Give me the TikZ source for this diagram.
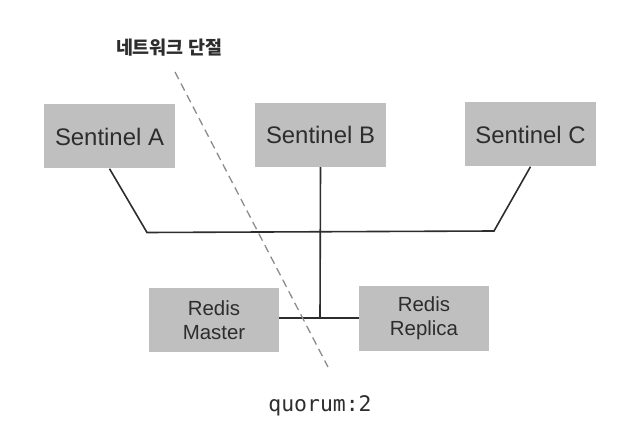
\documentclass[tikz,border=0pt]{standalone}
\usepackage{fontspec}
\setmainfont{Liberation Sans}
\setmonofont{DejaVu Sans Mono}
\newfontfamily\krfont{Noto Sans CJK KR}
\usetikzlibrary{positioning}
\definecolor{boxgray}{RGB}{191,191,191}
\definecolor{textgray}{RGB}{45,45,45}
\definecolor{cutgray}{RGB}{140,140,140}

\begin{document}
\begin{tikzpicture}[
	x=1bp, y=-1bp,
	server/.style={fill=boxgray, minimum width=131bp, minimum height=64bp,
		inner sep=0pt, text=textgray, font=\fontsize{24}{28}\selectfont},
	redis/.style={server, minimum width=130bp, align=center,
		font=\fontsize{20.5}{24}\selectfont},
	wire/.style={draw=textgray, line width=1.6bp},
	]
	\useasboundingbox (0,0) rectangle (642,436);
	\node[server] (sentA) at (109.5,136.5) {Sentinel A};
	\node[server] (sentB) at (320.5,135) {Sentinel B};
	\node[server] (sentC) at (530.5,134.5) {Sentinel C};
	\node[redis] (master) at (214,320) {Redis\\Master};
	\node[redis] (replica) at (424,318.5) {Redis\\Replica};
	\coordinate (busL) at (147,232.5);
	\coordinate (busR) at (494,231);
	\coordinate (hub) at (320,318);
	% network partition
	\coordinate (cutT) at (175,72);
	\coordinate (cutB) at (328,367);
	\node[font=\krfont\bfseries\fontsize{18.5}{21}\selectfont, text=textgray]
	(cutlabel) at (169,48) {네트워크 단절};
	\node[font=\ttfamily\fontsize{21.5}{25}\selectfont, text=textgray]
	(quorum) at (320,406) {quorum:2};
	\draw[wire, line join=miter]
	(sentA.south) -- (busL) -- (busR) -- (sentC.south);
	\draw[wire]
	(sentB.south) -- (hub)
	(master.east |- hub) -- (replica.west |- hub);
	\draw[draw=cutgray, line width=1.3bp, dash pattern=on 8bp off 5bp]
	(cutT) -- (cutB);
\end{tikzpicture}
\end{document}
